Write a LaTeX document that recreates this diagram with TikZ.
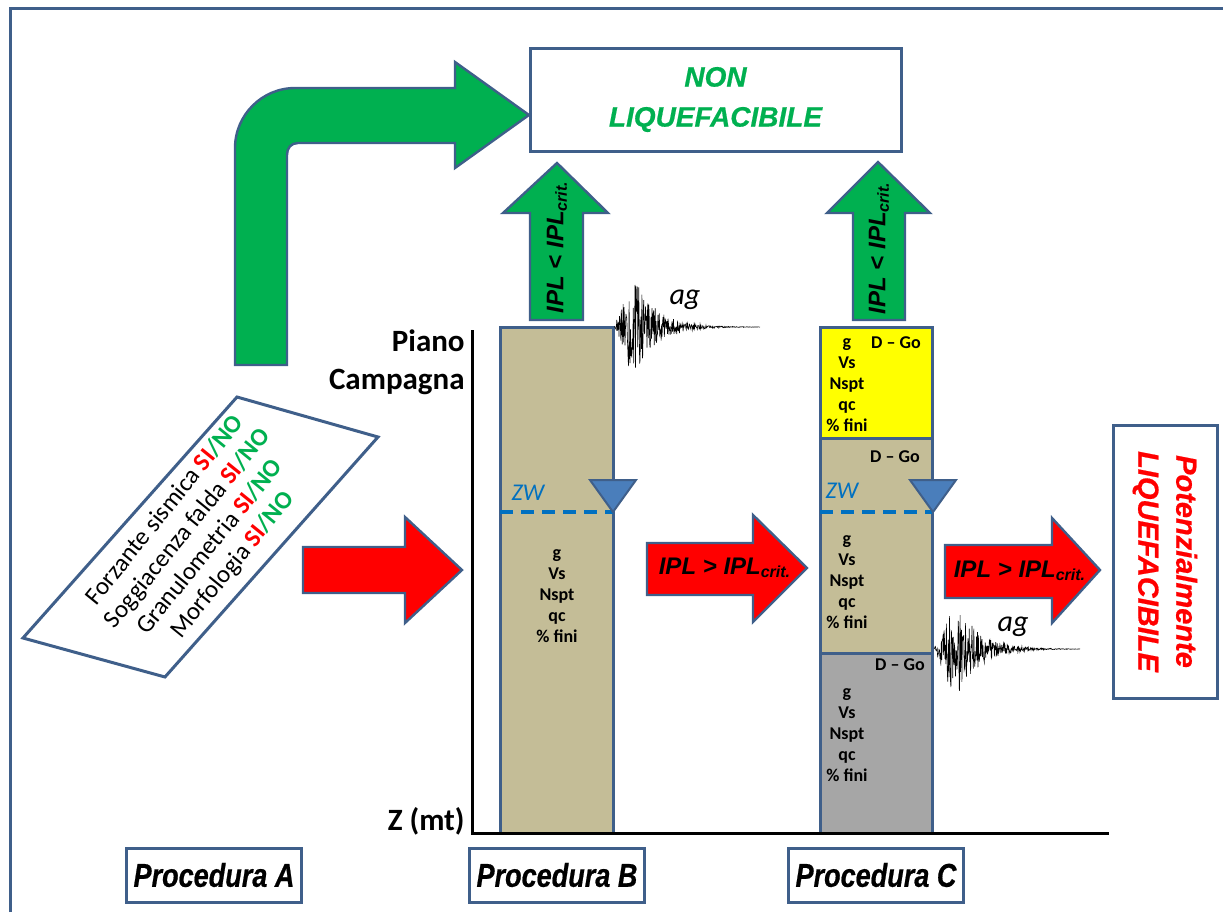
\documentclass[tikz,border=0pt]{standalone}
\usepackage{fontspec}
\setmainfont{Carlito}
\newfontfamily\arialfont{Liberation Sans}
\newfontfamily\pesantefont[FakeBold=0.6]{Liberation Sans}
\newfontfamily\strettofont[FakeStretch=0.82,FakeBold=0.6]{Liberation Sans}
\usetikzlibrary{positioning}
\definecolor{bordo}{HTML}{3F5F8A}
\definecolor{verde}{HTML}{00B050}
\definecolor{rosso}{HTML}{FF0000}
\definecolor{sabbia}{HTML}{C4BD97}
\definecolor{giallo}{HTML}{FFFF00}
\definecolor{grigio}{HTML}{A6A6A6}
\definecolor{acqua}{HTML}{0070C0}
\definecolor{triang}{HTML}{4A7EBB}
\newcommand{\sino}{\textbf{\textcolor{rosso}{SI}\textcolor{verde}{/NO}}}
\tikzset{
  contorno/.style={draw=bordo, line width=1.5pt},
  frecciaverde/.style={contorno, fill=verde, line width=1.2pt},
  frecciarossa/.style={contorno, fill=rosso, line width=1.2pt},
  strato/.style={contorno},
  dati/.style={align=center, font=\bfseries\fontsize{9}{10.5}\selectfont, inner sep=0pt},
  ipl/.style={font=\arialfont\bfseries\itshape\fontsize{12}{14}\selectfont, inner sep=0pt},
  esito/.style={contorno, fill=white, align=center, font=\pesantefont\bfseries\itshape\fontsize{14}{20}\selectfont},
  procedura/.style={contorno, fill=white, minimum width=86pt, minimum height=27pt, font=\strettofont\bfseries\itshape\fontsize{16.5}{18}\selectfont},
  falda/.style={draw=acqua, line width=1.8pt, dash pattern=on 6.5pt off 4pt},
  livello/.style={fill=triang, draw=bordo, line width=1pt},
  sismo/.style={black, line width=0.3pt},
  accel/.style={font=\itshape\fontsize{15}{18}\selectfont},
  asse/.style={font=\bfseries\fontsize{15.5}{18}\selectfont, anchor=east, inner sep=1pt}
}
\begin{document}
\begin{tikzpicture}[x=0.5pt,y=-0.5pt]
\useasboundingbox (0,0) rectangle (1223,917);
\pgfmathsetseed{4242}
% cornice
\draw[bordo, line width=1.5pt] (10,912) -- (10,8) -- (1223,8);

% freccia curva
\filldraw[frecciaverde] (235,365) -- (235,148) .. controls (235,115) and (262,88) .. (295,88) -- (455,88) -- (455,62) -- (529,115) -- (455,168) -- (455,143) -- (298,143) .. controls (291,143) and (287,148) .. (287,155) -- (287,365) -- cycle;

% esiti
\node[esito, text=verde, minimum width=185.5pt, minimum height=51.5pt] (nonliq) at (715.5,99.5) {NON\\LIQUEFACIBILE};
\node[esito, text=rosso, rotate=-90, minimum width=136.5pt, minimum height=52pt, font=\pesantefont\bfseries\itshape\fontsize{14.5}{19}\selectfont] (liq) at (1165,561.5) {Potenzialmente\\LIQUEFACIBILE};

% frecce verso l'alto
\filldraw[frecciaverde] (530,320) -- (530,213) -- (503,213) -- (557,163) -- (608,213) -- (583,213) -- (583,320) -- cycle;
\node[ipl, rotate=90] (iplB) at (557,247) {IPL < IPL\textsubscript{crit.}};
\filldraw[frecciaverde] (853,320) -- (853,213) -- (827,213) -- (878,162) -- (930,213) -- (905,213) -- (905,320) -- cycle;
\node[ipl, rotate=90] (iplC) at (879,248) {IPL < IPL\textsubscript{crit.}};

% criteri procedura A
\filldraw[contorno, fill=white] (237,397) -- (378,437) -- (165,677) -- (23,638) -- cycle;
\node[rotate=51, align=center, font=\fontsize{12.5}{14.5}\selectfont] (criteri) at (199,538)
  {Forzante sismica \sino\\Soggiacenza falda \sino\\Granulometria \sino\\Morfologia \sino};

% frecce rosse
\filldraw[frecciarossa] (303,547) -- (405,547) -- (405,517) -- (462,570) -- (405,623) -- (405,593) -- (303,593) -- cycle;
\filldraw[frecciarossa] (647,543) -- (753,543) -- (753,515) -- (807,568) -- (753,622) -- (753,595) -- (647,595) -- cycle;
\node[ipl] (iplBC) at (725,568) {IPL > IPL\textsubscript{crit.}};
\filldraw[frecciarossa] (945,545) -- (1052,545) -- (1052,518) -- (1100,570) -- (1052,623) -- (1052,598) -- (945,598) -- cycle;
\node[ipl] (iplCL) at (1020,571) {IPL > IPL\textsubscript{crit.}};

% colonna B
\filldraw[strato, fill=sabbia] (500,327) rectangle (613,833);
\draw[falda] (500,512) -- (613,512);
\filldraw[livello] (590,480) -- (636,480) -- (613,512) -- cycle;
\node[text=acqua, font=\itshape\fontsize{12}{14}\selectfont] (zwB) at (528,493) {ZW};
\node[dati] (datiB) at (557,596) {g\\Vs\\Nspt\\qc\\\% fini};

% colonna C
\filldraw[strato, fill=giallo] (820,327) rectangle (932,438);
\filldraw[strato, fill=sabbia] (820,438) rectangle (932,653);
\filldraw[strato, fill=grigio] (820,653) rectangle (932,833);
\draw[falda] (820,512) -- (932,512);
\filldraw[livello] (910,480) -- (956,480) -- (933,512) -- cycle;
\node[text=acqua, font=\itshape\fontsize{12}{14}\selectfont] (zwC) at (842,491) {ZW};
\node[dati] (dgo1) at (896,343) {D – Go};
\node[dati] (dati1) at (847,385) {g\\Vs\\Nspt\\qc\\\% fini};
\node[dati] (dgo2) at (895,457) {D – Go};
\node[dati] (dati2) at (847,582) {g\\Vs\\Nspt\\qc\\\% fini};
\node[dati] (dgo3) at (900,665) {D – Go};
\node[dati] (dati3) at (847,735) {g\\Vs\\Nspt\\qc\\\% fini};

% accelerogrammi
\draw[sismo] plot[domain=0:146, samples=320] ({614+\x}, {327+52*((\x<19)*(\x/19)+(\x>=19)*exp(-(\x-19)/22))*rand});
\node[accel] (agB) at (685,300) {ag};
\draw[sismo] plot[domain=0:146, samples=320] ({934+\x}, {649+52*((\x<21)*(\x/21)+(\x>=21)*exp(-(\x-21)/22))*rand});
\node[accel] (agC) at (1013,627) {ag};

% asse
\draw[line width=1.5pt] (472,330) -- (472,833) -- (1109,833);
\node[asse] (piano) at (467,341) {Piano};
\node[asse] (campagna) at (467,382) {Campagna};
\node[asse] (zeta) at (467,821) {Z (mt)};

% procedure
\node[procedura] (procA) at (214,875) {Procedura A};
\node[procedura, minimum width=87.5pt] (procB) at (557,875) {Procedura B};
\node[procedura] (procC) at (876,875) {Procedura C};
\end{tikzpicture}
\end{document}
